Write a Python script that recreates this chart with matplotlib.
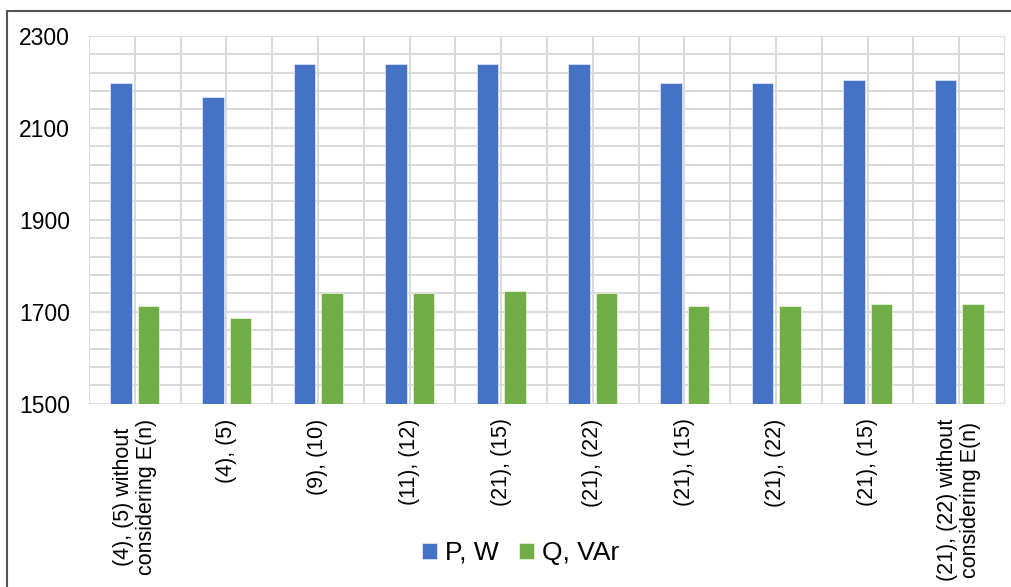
import numpy as np
import matplotlib.pyplot as plt
from matplotlib.patches import Rectangle

plt.rcParams['font.family'] = ['Liberation Sans', 'DejaVu Sans']

categories = ['(4), (5) without\nconsidering E(n)', '(4), (5)', '(9), (10)',
              '(11), (12)', '(21), (15)', '(21), (22)', '(21), (15)',
              '(21), (22)', '(21), (15)', '(21), (22) without\nconsidering E(n)']
p_w = [2197, 2166, 2239, 2239, 2239, 2239, 2197, 2197, 2204, 2204]
q_var = [1712, 1687, 1740, 1740, 1746, 1740, 1712, 1712, 1717, 1717]

fig = plt.figure(figsize=(10.11, 5.87), dpi=100)
ax = fig.add_axes([0.088, 0.312, 0.906, 0.627])

x = np.arange(len(categories))
w = 0.235
ax.bar(x - 0.148, np.array(p_w) - 1500, w, bottom=1500, color='#4472C4',
       edgecolor='#dbe3f3', linewidth=0.6, label='P, W', zorder=3)
ax.bar(x + 0.152, np.array(q_var) - 1500, w, bottom=1500, color='#70AD47',
       edgecolor='#e2efd9', linewidth=0.6, label='Q, VAr', zorder=3)

ax.set_xlim(-0.5, len(categories) - 0.5)
ax.set_ylim(1500, 2300)
ax.set_yticks([1500, 1700, 1900, 2100, 2300])
ax.set_yticks(np.arange(1500, 2301, 40), minor=True)
ax.set_xticks(x)
ax.set_xticks(np.arange(-0.5, len(categories), 0.5), minor=True)
ax.set_xticklabels(categories, rotation=90, ha='center', va='top',
                   multialignment='center', fontsize=15.5, linespacing=1.1)
ax.tick_params(axis='y', labelsize=16.5, length=0, pad=13.5)
ax.tick_params(axis='x', length=0, pad=10.5)
ax.tick_params(which='minor', length=0)
ax.grid(which='both', color='#d9d9d9', linewidth=1.4, zorder=0)
for s in ax.spines.values():
    s.set_visible(False)

fig.legend(loc='center', bbox_to_anchor=(0.515, 0.058), ncol=2, frameon=False,
           fontsize=19, handlelength=0.55, handleheight=0.55,
           handletextpad=0.3, columnspacing=0.8)

fig.patches.append(Rectangle((7 / 1011, -0.1), 1.2, 1 - 11 / 587 + 0.1,
                             transform=fig.transFigure, fill=False,
                             edgecolor='#555555', linewidth=1.5))

fig.savefig('out.png', dpi=100)
